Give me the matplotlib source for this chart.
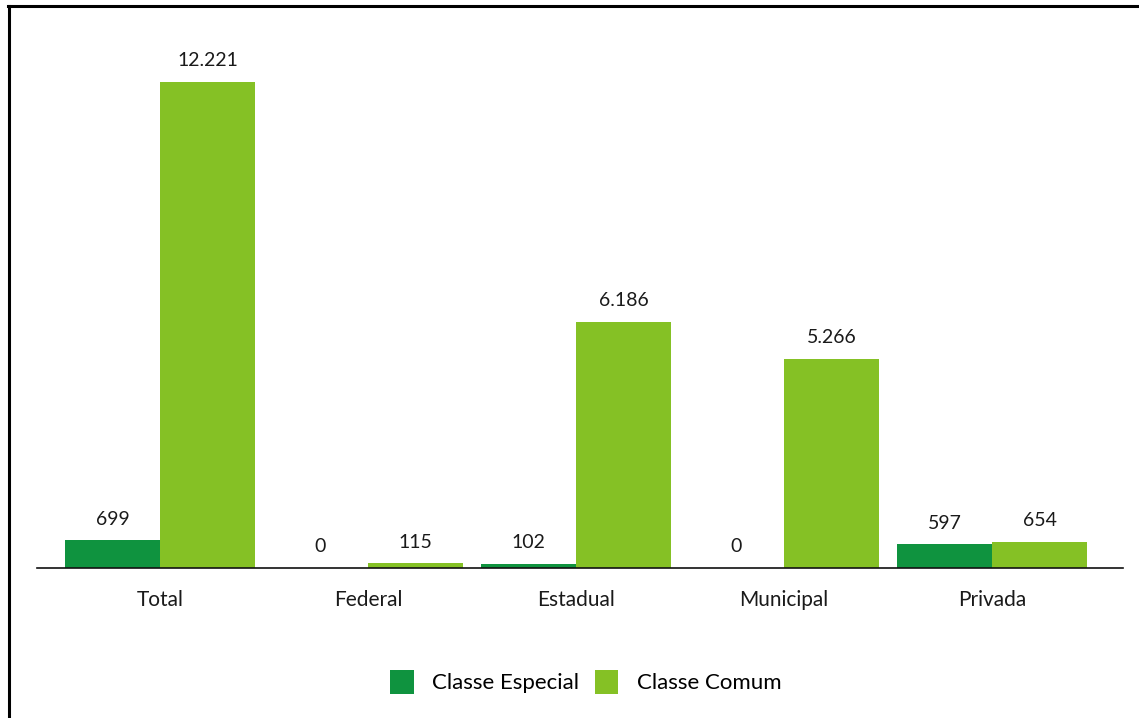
import matplotlib
matplotlib.use("Agg")
import matplotlib.pyplot as plt
from matplotlib.lines import Line2D
from matplotlib.patches import Patch
import numpy as np

categories = ["Total", "Federal", "Estadual", "Municipal", "Privada"]
especial = [699, 0, 102, 0, 597]
comum = [12221, 115, 6186, 5266, 654]
labels_especial = ["699", "0", "102", "0", "597"]
labels_comum = ["12.221", "115", "6.186", "5.266", "654"]
series_names = ["Classe Especial", "Classe Comum"]

DARK = "#0F933F"
LIGHT = "#85C125"

plt.rcParams['font.family'] = ['Lato', 'DejaVu Sans']

W, H = 1139, 718
fig = plt.figure(figsize=(W / 100, H / 100), dpi=100)
fig.patch.set_facecolor("white")

# axes placed in pixel terms: baseline at y=568, top at y=30
left_px, right_px, base_px, top_px = 37, 1123, 568, 30
ax = fig.add_axes([left_px / W, (H - base_px) / H,
                   (right_px - left_px) / W, (base_px - top_px) / H])

x = np.arange(len(categories))
bw = 0.457
ax.bar(x - bw / 2, especial, bw, color=DARK, label=series_names[0])
ax.bar(x + bw / 2, comum, bw, color=LIGHT, label=series_names[1])

ax.set_xlim(-0.591, 4.63)
ax.set_ylim(0, 13528)

for xi, v, s in zip(x, especial, labels_especial):
    ax.annotate(s, (xi - bw / 2, v), xytext=(0, 9), textcoords="offset points",
                ha="center", va="bottom", fontsize=14, color="#1a1a1a")
for xi, v, s in zip(x, comum, labels_comum):
    ax.annotate(s, (xi + bw / 2, v), xytext=(0, 9), textcoords="offset points",
                ha="center", va="bottom", fontsize=14, color="#1a1a1a")

for side in ["top", "right", "left"]:
    ax.spines[side].set_visible(False)
ax.spines["bottom"].set_linewidth(1.2)
ax.spines["bottom"].set_color("#111111")
ax.set_yticks([])
ax.set_xticks(x)
ax.set_xticklabels(categories, fontsize=15, color="#1a1a1a")
ax.tick_params(axis="x", length=0, pad=16)
ax.set_facecolor("none")

handles = [Patch(facecolor=DARK, edgecolor="none"),
           Patch(facecolor=LIGHT, edgecolor="none")]
fig.legend(handles, series_names, loc="center", bbox_to_anchor=(586 / W, (H - 682) / H),
           ncol=2, frameon=False, fontsize=16, handlelength=1.05, handleheight=1.3,
           columnspacing=0.7, handletextpad=0.85)

# frame lines along the top and left edge
fig.add_artist(Line2D([8 / W, 1.0], [(H - 6) / H, (H - 6) / H], color="black", lw=2.2,
                      transform=fig.transFigure))
fig.add_artist(Line2D([9 / W, 9 / W], [0, (H - 6) / H], color="black", lw=2.2,
                      transform=fig.transFigure))

fig.savefig("out.png", dpi=100, facecolor="white")
